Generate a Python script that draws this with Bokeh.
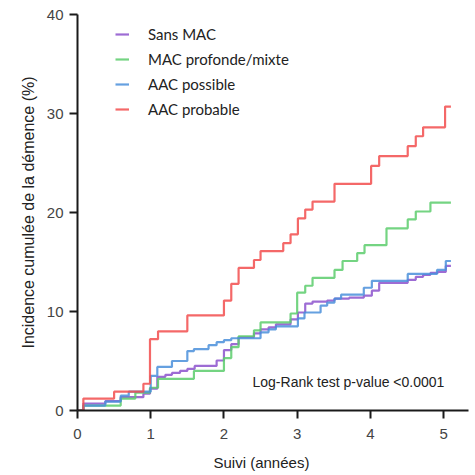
from bokeh.plotting import figure
from bokeh.models import Legend, LegendItem, Label, Title, FixedTicker
from bokeh.embed import file_html
from bokeh.resources import INLINE

# Kaplan-Meier style cumulative incidence (%) by follow-up time (years)
t_sans = [0, 0.08, 0.38, 0.59, 0.9, 0.99, 1.09, 1.2, 1.29, 1.4, 1.5, 1.6, 1.9, 2.0, 2.1, 2.2,
          2.41, 2.5, 2.61, 2.71, 2.91, 3.01, 3.11, 3.21, 3.41, 3.51, 3.71, 3.91, 4.02, 4.12,
          4.51, 4.62, 4.72, 4.82, 4.92, 5.03, 5.1]
v_sans = [0, 0.7, 0.95, 1.35, 1.7, 2.2, 3.4, 3.6, 3.8, 4.0, 4.2, 4.5, 5.05, 6.1, 6.7, 7.4,
          7.8, 8.2, 8.4, 8.7, 9.2, 9.9, 10.8, 11.0, 11.1, 11.3, 11.4, 11.6, 12.1, 12.9,
          13.2, 13.5, 13.7, 13.9, 14.0, 14.6, 14.6]

t_mac = [0, 0.08, 0.59, 0.79, 0.99, 1.1, 1.59, 2.0, 2.1, 2.2, 2.41, 2.5, 2.91, 3.0, 3.11,
         3.21, 3.51, 3.62, 3.82, 3.92, 4.22, 4.51, 4.62, 4.82, 5.1]
v_mac = [0, 0.5, 1.2, 1.8, 2.3, 3.2, 4.0, 5.3, 6.4, 7.5, 8.1, 8.9, 9.8, 11.9, 12.6,
         13.4, 14.2, 15.1, 15.9, 16.7, 18.4, 19.3, 20.1, 21.0, 21.0]

t_poss = [0, 0.08, 0.38, 0.59, 0.7, 1.0, 1.09, 1.29, 1.5, 1.59, 1.79, 1.9, 2.0, 2.1, 2.5,
          2.61, 2.71, 3.01, 3.1, 3.32, 3.41, 3.51, 3.6, 3.91, 4.02, 4.51, 4.91, 5.03, 5.1]
v_poss = [0, 0.5, 0.9, 1.5, 1.9, 3.5, 4.4, 5.0, 6.0, 6.2, 6.6, 6.9, 7.1, 7.3, 7.9,
          8.2, 8.5, 9.3, 9.9, 10.6, 10.9, 11.3, 11.7, 12.4, 13.1, 13.8, 14.2, 15.1, 15.1]

t_prob = [0, 0.08, 0.5, 0.9, 0.99, 1.1, 1.5, 2.0, 2.1, 2.2, 2.41, 2.5, 2.81, 2.91, 3.01,
          3.11, 3.21, 3.51, 4.01, 4.12, 4.51, 4.62, 4.72, 5.02, 5.1]
v_prob = [0, 1.2, 1.9, 2.7, 7.2, 8.0, 9.6, 11.1, 12.8, 14.4, 15.2, 16.1, 16.9, 17.8, 19.4,
          20.3, 21.1, 22.9, 24.7, 25.7, 26.7, 27.7, 28.6, 30.7, 30.7]

groups = ["Sans MAC", "MAC profonde/mixte", "AAC possible", "AAC probable"]
colors = ["#8c52cc", "#5ccc6c", "#4a8fdb", "#f24d4d"]
x_ticks = [0, 1, 2, 3, 4, 5]
y_ticks = [0, 10, 20, 30, 40]

p = figure(frame_width=391, frame_height=396, x_range=(0, 5.34), y_range=(0, 40),
           output_backend="svg", toolbar_location=None,
           min_border_left=77, min_border_top=14, min_border_right=2, min_border_bottom=4)
p.grid.visible = False
p.outline_line_color = None
p.background_fill_color = "white"

series = [(t_sans, v_sans), (t_mac, v_mac), (t_poss, v_poss), (t_prob, v_prob)]
items = []
for (t, v), name, c in zip(series, groups, colors):
    r = p.step(t, v, mode="after", line_color=c, line_width=2.2, line_alpha=0.85)
    items.append(LegendItem(label=name, renderers=[r]))

for ax in (p.xaxis[0], p.yaxis[0]):
    ax.axis_line_width = 2
    ax.axis_line_color = "#1a1a1a"
    ax.major_tick_line_width = 2
    ax.major_tick_line_color = "#1a1a1a"
    ax.major_tick_out = 8
    ax.major_tick_in = 0
    ax.minor_tick_line_color = None
    ax.major_label_text_font = "Liberation Sans"
    ax.major_label_text_font_size = "15px"
    ax.major_label_text_color = "#444444"

p.xaxis[0].ticker = FixedTicker(ticks=x_ticks)
p.yaxis[0].ticker = FixedTicker(ticks=y_ticks)
p.xaxis[0].major_label_standoff = 10
p.yaxis[0].major_label_standoff = 6

p.yaxis[0].axis_label = "Incidence cumulée de la démence (%)"
p.yaxis[0].axis_label_text_font = "Liberation Sans"
p.yaxis[0].axis_label_text_font_size = "16px"
p.yaxis[0].axis_label_text_font_style = "normal"
p.yaxis[0].axis_label_text_color = "#222222"
p.yaxis[0].axis_label_standoff = 7

xt = Title(text="Suivi (années)", align="left", offset=136, standoff=20,
           text_font="Liberation Sans", text_font_size="15px", text_font_style="normal",
           text_color="#222222")
p.add_layout(xt, "below")

legend = Legend(items=items, location=(38, 291), padding=0, margin=0,
                border_line_alpha=0, background_fill_alpha=0,
                glyph_width=14, glyph_height=20, label_height=20, spacing=5,
                label_standoff=19, label_text_font="Lato", label_text_font_size="15px",
                label_text_color="#222222")
p.add_layout(legend)

p.add_layout(Label(x=175, y=29, x_units="screen", y_units="screen",
                   text="Log-Rank test p-value <0.0001", text_font="Liberation Sans",
                   text_font_size="14px", text_color="#222222", text_baseline="alphabetic"))

open("out.html", "w").write(file_html(p, INLINE))
